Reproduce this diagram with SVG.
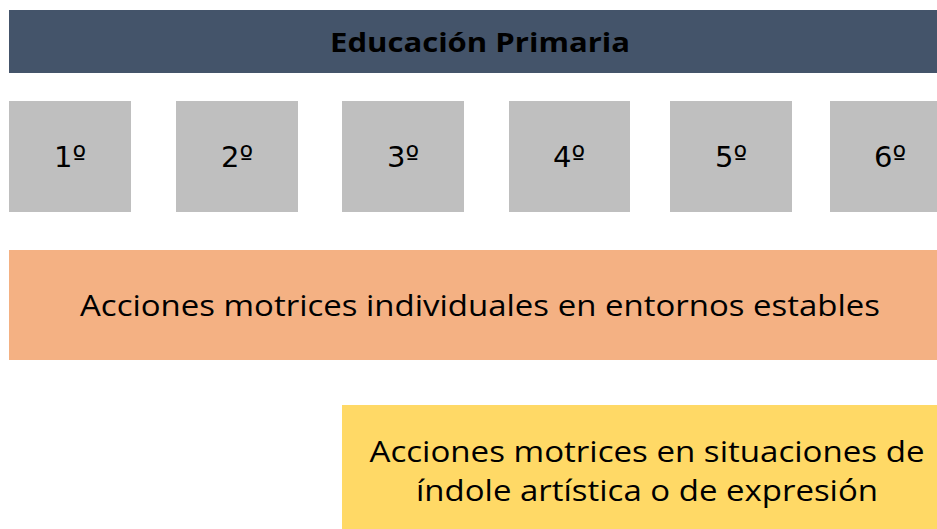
<svg xmlns="http://www.w3.org/2000/svg" width="937" height="529" viewBox="0 0 937 529">
<style>
text{font-family:"Open Sans","Noto Sans","Liberation Sans",sans-serif;fill:#000;text-anchor:middle}
.yr{fill:#BFBFBF}
.yt{font-family:"DejaVu Sans","Open Sans",sans-serif;font-size:29px}
.big{font-size:30px}
</style>
<rect width="937" height="529" fill="#fff"/>
<g id="header"><rect x="9" y="10" width="928" height="63" fill="#44546A"/><text x="480" y="52" font-size="27" font-weight="bold" textLength="300" lengthAdjust="spacingAndGlyphs">Educación Primaria</text></g>
<g id="y1"><rect class="yr" x="9" y="101" width="122" height="111"/><text class="yt" x="70" y="167">1º</text></g>
<g id="y2"><rect class="yr" x="176" y="101" width="122" height="111"/><text class="yt" x="237" y="167">2º</text></g>
<g id="y3"><rect class="yr" x="342" y="101" width="122" height="111"/><text class="yt" x="403" y="167">3º</text></g>
<g id="y4"><rect class="yr" x="509" y="101" width="121" height="111"/><text class="yt" x="569" y="167">4º</text></g>
<g id="y5"><rect class="yr" x="670" y="101" width="122" height="111"/><text class="yt" x="731" y="167">5º</text></g>
<g id="y6"><rect class="yr" x="830" y="101" width="122" height="111"/><text class="yt" x="890" y="167">6º</text></g>
<g id="individuales"><rect x="9" y="250" width="928" height="110" fill="#F4B183"/><text class="big" x="480" y="316" textLength="800" lengthAdjust="spacingAndGlyphs">Acciones motrices individuales en entornos estables</text></g>
<g id="artistica"><rect x="342" y="405" width="595" height="124" fill="#FFD966"/><text class="big" x="647" y="462" textLength="555" lengthAdjust="spacingAndGlyphs">Acciones motrices en situaciones de</text><text class="big" x="647" y="501" textLength="462" lengthAdjust="spacingAndGlyphs">índole artística o de expresión</text></g>
<g id="connectors"/>
</svg>
